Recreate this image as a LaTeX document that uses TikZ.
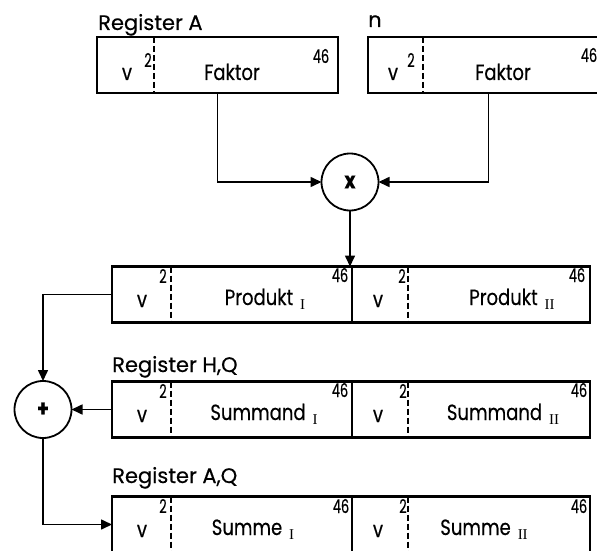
\documentclass[tikz,border=0pt]{standalone}
\usepackage{fontspec}
\setmainfont{Poppins}[FakeStretch=0.82, FakeBold=0.35]
\newfontfamily\lblfont{Poppins}[FakeBold=0.35]
\newfontfamily\supfont{Poppins}[FakeStretch=0.68, FakeBold=0.3]
\newfontfamily\romfont{Liberation Serif}
\newcommand{\sbs}[1]{\hspace{7pt}\raisebox{-4pt}{\fontsize{15}{15}\romfont #1}}
\usetikzlibrary{calc,arrows.meta}
\begin{document}
\begin{tikzpicture}[x=1pt,y=-1pt,
  reg/.style={draw, line width=2.8pt, rectangle, minimum height=56pt, inner sep=0pt, outer sep=0pt},
  div/.style={line width=1.6pt, dash pattern=on 6pt off 3pt},
  sep/.style={line width=1.8pt},
  conn/.style={line width=1.6pt},
  arr/.style={conn, -{Triangle[length=11pt,width=10pt]}},
  op/.style={draw, circle, line width=1.8pt, minimum size=57pt, inner sep=0pt, outer sep=0pt, font=\fontsize{23}{23}\selectfont\bfseries},
  lbl/.style={anchor=base west, inner sep=0pt, font=\fontsize{21}{21}\lblfont},
  txt/.style={anchor=base, inner sep=0pt, font=\fontsize{22}{22}\selectfont},
  sup/.style={anchor=base, inner sep=0pt, font=\fontsize{19}{19}\supfont},
]
\useasboundingbox (0,0) rectangle (597,551);
\clip (0,0) rectangle (597,551);

% labels
\node[lbl] (lA) at (98,30) {Register A};
\node[lbl] (ln) at (368,27) {n};
\node[lbl] (lHQ) at (112,372) {Register H,Q};
\node[lbl] (lAQ) at (112,483) {Register A,Q};

% registers
\node[reg, minimum width=241pt] (A) at (217.5,65) {};
\node[reg, minimum width=241pt] (N) at (488.5,65) {};
\node[reg, minimum width=478pt] (P) at (351,294.5) {};
\node[reg, minimum width=478pt] (S) at (351,409.5) {};
\node[reg, minimum width=478pt] (R) at (351,524.5) {};

\draw[div] ([xshift=57pt]A.north west) -- ([xshift=57pt]A.south west);
\draw[div] ([xshift=55pt]N.north west) -- ([xshift=55pt]N.south west);
\foreach \b in {P,S,R} {
  \draw[div] ([xshift=59pt]\b.north west) -- ([xshift=59pt]\b.south west);
  \draw[sep] ([xshift=240pt]\b.north west) -- ([xshift=240pt]\b.south west);
  \draw[div] ([xshift=296pt]\b.north west) -- ([xshift=296pt]\b.south west);
}

% texts in A and N
\node[txt] (Av) at (127,80) {v};
\node[sup] (A2) at (148,67) {2};
\node[txt] (Af) at (232,80) {Faktor};
\node[sup] (A46) at (321,63) {46};
\node[txt] (Nv) at (393,80) {v};
\node[sup] (N2) at (411,67) {2};
\node[txt] (Nf) at (503,80) {Faktor};
\node[sup] (N46) at (589,62) {46};

% Produkt
\node[txt] (Pv1) at (142,307) {v};
\node[sup] (P21) at (163,283) {2};
\node[txt] (Pt1) at (265,305) {Produkt\sbs{I}};
\node[sup] (P461) at (340,282) {46};
\node[txt] (Pv2) at (378,307) {v};
\node[sup] (P22) at (402,283) {2};
\node[txt] (Pt2) at (512,305) {Produkt\sbs{II}};
\node[sup] (P462) at (577,282) {46};

% Summand
\node[txt] (Sv1) at (142,422) {v};
\node[sup] (S21) at (163,398) {2};
\node[txt] (St1) at (264,420) {Summand\sbs{I}};
\node[sup] (S461) at (340,397) {46};
\node[txt] (Sv2) at (378,422) {v};
\node[sup] (S22) at (403,398) {2};
\node[txt] (St2) at (503,420) {Summand\sbs{II}};
\node[sup] (S462) at (579,397) {46};

% Summe
\node[txt] (Rv1) at (142,537) {v};
\node[sup] (R21) at (163,513) {2};
\node[txt] (Rt1) at (253,535) {Summe\sbs{I}};
\node[sup] (R461) at (341,513) {46};
\node[txt] (Rv2) at (378,537) {v};
\node[sup] (R22) at (403,513) {2};
\node[txt] (Rt2) at (484,535) {Summe\sbs{II}};
\node[sup] (R462) at (579,513) {46};

% operators
\node[op] (mul) at (350,182) {x};
\node[op] (add) at (43,409.5) {+};

% connectors
\draw[arr] (A.south) |- (mul.west);
\draw[arr] (N.south) |- (mul.east);
\draw[arr] (mul.south) -- (mul.south |- P.north);
\draw[arr] (P.west) -| (add.north);
\draw[arr] (S.west) -- (add.east);
\draw[arr] (add.south) |- (R.west);
\end{tikzpicture}
\end{document}
